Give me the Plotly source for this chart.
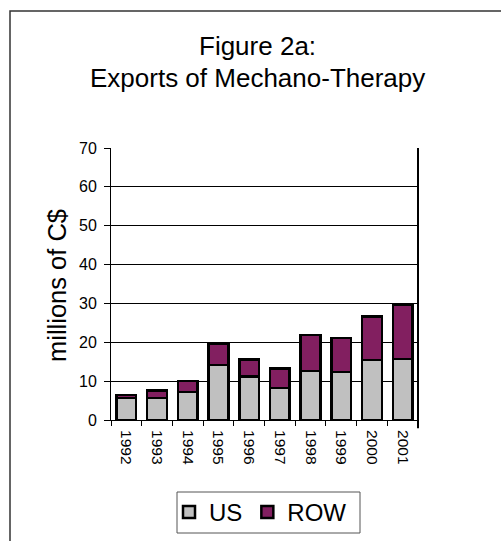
import plotly.graph_objects as go

# Exports of mechano-therapy, millions of C$
years = ["1992", "1993", "1994", "1995", "1996", "1997", "1998", "1999", "2000", "2001"]
us_values = [5.6, 5.7, 7.2, 14.1, 11.2, 8.3, 12.6, 12.4, 15.5, 15.7]
row_values = [0.8, 1.9, 2.9, 5.4, 4.4, 4.9, 9.3, 8.7, 11.1, 14.0]
y_ticks = [0, 10, 20, 30, 40, 50, 60, 70]

W, H = 501, 541
L, R, T, B = 111, 83, 148, 121
PW, PH = W - L - R, H - T - B
FONT = "Arial, Liberation Sans, sans-serif"


def px_x(px):
    return (px - L) / PW


def px_y(py):
    return (H - B - py) / PH


fig = go.Figure()
fig.add_bar(
    x=years, y=us_values, name="US",
    marker=dict(color="#C0C0C0", line=dict(color="black", width=2.5)),
)
fig.add_bar(
    x=years, y=row_values, name="ROW",
    marker=dict(color="#821F60", line=dict(color="black", width=2.5)),
)

fig.update_layout(
    width=W, height=H,
    margin=dict(l=L, r=R, t=T, b=B, autoexpand=False),
    barmode="stack",
    bargap=0.36,
    plot_bgcolor="white",
    paper_bgcolor="white",
    font=dict(family=FONT, color="black"),
    showlegend=True,
    legend=dict(
        orientation="h",
        x=px_x(169), y=px_y(490),
        xanchor="left", yanchor="top",
        borderwidth=0,
        bgcolor="rgba(0,0,0,0)",
        font=dict(size=24, family=FONT),
        itemwidth=30,
        traceorder="normal",
    ),
)

fig.update_xaxes(
    type="category",
    showline=True, linecolor="black", linewidth=1,
    ticks="outside", tickson="boundaries", ticklen=5, tickcolor="black",
    tickangle=90,
    tickfont=dict(size=15.5, family=FONT),
    ticklabelstandoff=6,
    showgrid=False,
    automargin=False,
)
fig.update_yaxes(
    range=[0, 70],
    tickvals=y_ticks,
    showline=True, linecolor="black", linewidth=1,
    ticks="outside", ticklen=6, tickcolor="black",
    tickfont=dict(size=16, family=FONT),
    ticklabelstandoff=4,
    showgrid=True, gridcolor="black", gridwidth=1,
    zeroline=False,
    automargin=False,
)

# right-hand frame line, running a little below the category axis
fig.add_shape(
    type="line", xref="x domain", yref="y domain",
    x0=1, x1=1, y0=-0.03, y1=1,
    line=dict(color="black", width=2),
)
# outer chart border
fig.add_shape(
    type="rect", xref="paper", yref="paper",
    x0=px_x(10), x1=px_x(W + 20), y0=px_y(H + 20), y1=px_y(11),
    line=dict(color="#333333", width=1.5),
    fillcolor="rgba(0,0,0,0)",
    layer="below",
)
# legend frame
fig.add_shape(
    type="rect", xref="paper", yref="paper",
    x0=px_x(177), x1=px_x(360), y0=px_y(533), y1=px_y(492),
    line=dict(color="#555555", width=1),
    fillcolor="rgba(0,0,0,0)",
)

# two-line title
fig.add_annotation(
    text="Figure 2a:", xref="paper", yref="paper",
    x=px_x(257), y=px_y(46), xanchor="center", yanchor="middle",
    showarrow=False, font=dict(size=26, family=FONT),
)
fig.add_annotation(
    text="Exports of Mechano-Therapy", xref="paper", yref="paper",
    x=px_x(257), y=px_y(78), xanchor="center", yanchor="middle",
    showarrow=False, font=dict(size=26, family=FONT),
)
# value axis title
fig.add_annotation(
    text="millions of C$", xref="paper", yref="paper",
    x=px_x(57), y=px_y(286), xanchor="center", yanchor="middle",
    textangle=-90, showarrow=False, font=dict(size=25.5, family=FONT),
)

fig.write_html("out.html")
